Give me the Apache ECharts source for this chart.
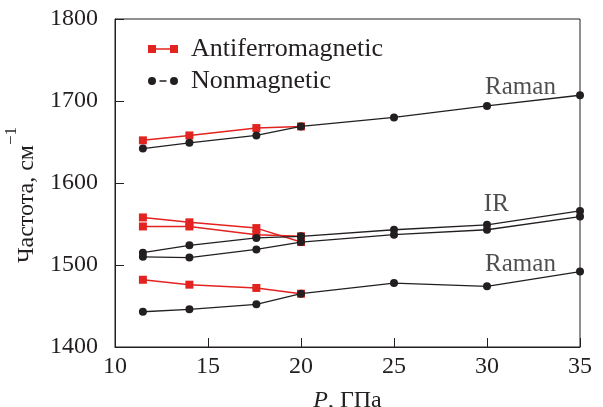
<!DOCTYPE html>
<html>
<head>
<meta charset="utf-8">
<script src="https://cdn.jsdelivr.net/npm/echarts@6/dist/echarts.min.js"></script>
<style>html,body{margin:0;padding:0;background:#fff}#c{width:603px;height:407px}
#fl{position:absolute;left:0;top:0;color:#fff;font-family:'Liberation Serif';font-size:24px;z-index:-1}</style>
</head>
<body>
<div id="fl">Aa1 <i>P</i> Частота</div>
<div id="c"></div>
<script>
// Pressure values (GPa)
var pressure = [11.5, 14, 17.6, 20, 25, 30, 35];
var pressureAF = [11.5, 14, 17.6, 20];
// Nonmagnetic (black)
var nmRamanHigh = [1642, 1649, 1658, 1669, 1680, 1694, 1707];
var nmIrUpper   = [1515, 1524, 1533, 1535, 1543, 1549, 1566];
var nmIrLower   = [1510, 1509, 1519, 1528, 1537, 1543, 1559];
var nmRamanLow  = [1443, 1446, 1452, 1465, 1478, 1474, 1492];
// Antiferromagnetic (red)
var afRamanHigh = [1652, 1658, 1667, 1669];
var afIrUpper   = [1558, 1552, 1545, 1528];
var afIrLower   = [1547, 1547, 1537, 1535];
var afRamanLow  = [1482, 1476, 1472, 1465];
// Annotations
var annText = ['Raman', 'IR', 'Raman'];
var annP    = [31.8, 30.5, 31.8];
var annV    = [1717, 1574, 1501];
var xTicks = [10, 15, 20, 25, 30, 35];
var yTicks = [1400, 1500, 1600, 1700, 1800];

var RED = '#e2231f', BLACK = '#231f20';
var SERIF = 'Liberation Serif';

function pairs(xs, ys) { return xs.map(function (x, i) { return [x, ys[i]]; }); }
function serifRich(size) {
  return { t: { fontFamily: SERIF, fontSize: size, color: BLACK },
           i: { fontFamily: SERIF, fontSize: size, color: BLACK, fontStyle: 'italic' } };
}

function afSeries(vals) {
  return { name: 'Antiferromagnetic', type: 'line', data: pairs(pressureAF, vals),
    symbol: 'rect', symbolSize: 8, itemStyle: { color: RED },
    lineStyle: { color: RED, width: 1.5 }, z: 2 };
}
function nmSeries(vals) {
  return { name: 'Nonmagnetic', type: 'line', data: pairs(pressure, vals),
    symbol: 'circle', symbolSize: 8, itemStyle: { color: BLACK },
    lineStyle: { color: BLACK, width: 1.3 }, z: 3 };
}

function buildOption() {
  var series = [
    afSeries(afRamanHigh), afSeries(afIrUpper), afSeries(afIrLower), afSeries(afRamanLow),
    nmSeries(nmRamanHigh), nmSeries(nmIrUpper), nmSeries(nmIrLower), nmSeries(nmRamanLow)
  ];
  series.push({
    type: 'scatter', symbolSize: 1, silent: true,
    itemStyle: { color: 'rgba(0,0,0,0)' },
    data: annText.map(function (t, i) { return { value: [annP[i], annV[i]], name: t }; }),
    label: { show: true, position: 'inside', color: BLACK, fontFamily: SERIF, fontSize: 25,
      formatter: function (p) { return '{t|' + p.name + '}'; }, rich: serifRich(25) }
  });
  return {
    backgroundColor: '#fff',
    animation: false,
    textStyle: { fontFamily: SERIF },
    grid: { left: 115, right: 23, top: 19, bottom: 60, show: true, borderColor: BLACK, borderWidth: 1,
      containLabel: false, outerBoundsMode: 'none' },
    legend: {
      orient: 'vertical', left: 143, top: 31, itemWidth: 30, itemHeight: 8, itemGap: 6,
      selectedMode: false,
      formatter: function (n) { return '{t|' + n + '}'; },
      textStyle: { fontFamily: SERIF, fontSize: 26, color: BLACK, padding: [0, 0, 0, 8], lineHeight: 23,
        rich: serifRich(26) },
      itemStyle: { borderWidth: 0 },
      data: [
        { name: 'Antiferromagnetic', icon: 'path://M0,0H8V8H0Z M22,0H30V8H22Z M8,3.3H22V4.7H8Z' },
        { name: 'Nonmagnetic', icon: 'path://M0,4A4,4 0 1,0 8,4A4,4 0 1,0 0,4Z M11.5,3.3H18.5V4.7H11.5Z M22,4A4,4 0 1,0 30,4A4,4 0 1,0 22,4Z' }
      ]
    },
    xAxis: {
      type: 'value', min: 10, max: 35, interval: 5,
      name: '{i|P}{t|, ГПа}', nameLocation: 'middle', nameGap: 42,
      nameTextStyle: { fontFamily: SERIF, fontSize: 24, color: BLACK, rich: serifRich(24) },
      axisLine: { lineStyle: { color: BLACK, width: 1 } },
      axisTick: { inside: true, length: 9, lineStyle: { color: BLACK } },
      axisLabel: { fontFamily: SERIF, fontSize: 24, color: BLACK, margin: 8, rich: serifRich(24),
        formatter: function (v) { return xTicks.indexOf(v) >= 0 ? '{t|' + v + '}' : ''; } },
      splitLine: { show: false }
    },
    yAxis: {
      type: 'value', min: 1400, max: 1800, interval: 100,
      name: '{a|Частота, см}{s|−1}', nameLocation: 'middle', nameGap: 71, nameRotate: 90,
      nameTextStyle: { fontFamily: SERIF, fontSize: 24, color: BLACK, padding: [0, 24, 0, 0],
        rich: { a: { fontFamily: SERIF, fontSize: 24, color: BLACK, lineHeight: 36, verticalAlign: 'bottom' },
                s: { fontFamily: SERIF, fontSize: 17, color: BLACK, lineHeight: 36, verticalAlign: 'top' } } },
      axisLine: { lineStyle: { color: BLACK, width: 1 } },
      axisTick: { inside: true, length: 9, lineStyle: { color: BLACK } },
      axisLabel: { fontFamily: SERIF, fontSize: 24, color: BLACK, margin: 17, rich: serifRich(24),
        formatter: function (v) { return yTicks.indexOf(v) >= 0 ? '{t|' + v + '}' : ''; } },
      splitLine: { show: false }
    },
    series: series
  };
}

var chart = echarts.init(document.getElementById('c'));
chart.setOption(buildOption());
function redraw() { chart.clear(); chart.setOption(buildOption(), true); }
if (document.fonts && document.fonts.load) {
  Promise.all([
    document.fonts.load('24px "Liberation Serif"'),
    document.fonts.load('italic 24px "Liberation Serif"')
  ]).then(redraw, redraw);
}
setTimeout(redraw, 150);
</script>
</body>
</html>
